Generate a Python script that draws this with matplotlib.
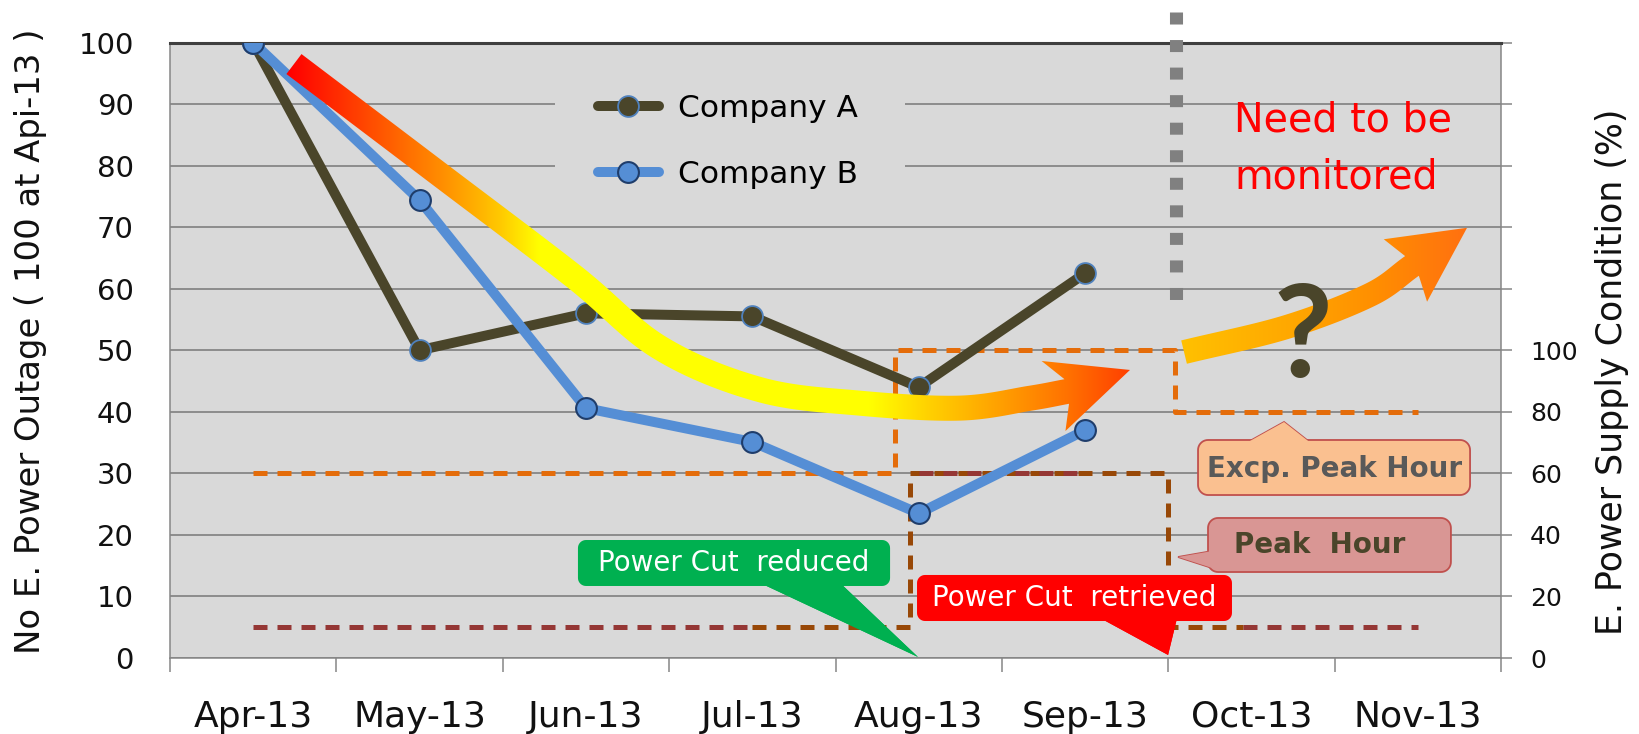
import numpy as np
import matplotlib
matplotlib.use('Agg')
import matplotlib.pyplot as plt
from matplotlib.patches import Polygon, Rectangle
from matplotlib.colors import to_rgb
from matplotlib.ticker import FuncFormatter

plt.rcParams['font.family'] = ['DejaVu Sans']

# ---------------- data ----------------
months = ['Apr-13', 'May-13', 'Jun-13', 'Jul-13', 'Aug-13', 'Sep-13', 'Oct-13', 'Nov-13']
company_a = [100, 50, 56, 55.5, 44, 62.5]
company_b = [100, 74.4, 40.6, 35.1, 23.5, 37.0]
excp_peak = [60, 60, 60, 60, 100, 100, 80, 80]   # E. power supply condition (%) - exceptional peak hour
peak_hour = [10, 10, 10, 10, 60, 60, 10, 10]     # E. power supply condition (%) - peak hour
left_ticks = list(range(0, 101, 10))
right_ticks = list(range(0, 201, 20))

# ---------------- styling ----------------
BG = '#D9D9D9'
GRID = '#868686'
COL_A = '#4A452A'
COL_B = '#558ED5'
ORANGE = '#E46C0A'
DKRED = '#953735'
BROWN = '#984807'

W, H = 1639, 734
fig = plt.figure(figsize=(W / 100, H / 100), dpi=100)
L, R, B, T = 170, 1501, 658, 42.5
ax = fig.add_axes([L / W, 1 - B / H, (R - L) / W, (B - T) / H])
ax2 = ax.twinx()
ax.set_zorder(ax2.get_zorder() + 1)
ax.patch.set_visible(False)
ax2.patch.set_visible(True)
ax2.patch.set_facecolor(BG)

ax.set_xlim(-0.5, 7.5)
ax.set_ylim(0, 100)
ax2.set_ylim(0, 200)

# spines
for s in ax.spines.values():
    s.set_visible(False)
for k, s in ax2.spines.items():
    s.set_color(GRID)
    s.set_linewidth(1.1)
ax2.spines['top'].set_color('#3F3F3F')
ax2.spines['top'].set_linewidth(2.2)

# grid on background axis
ax2.set_yticks(right_ticks)
ax2.yaxis.set_major_formatter(FuncFormatter(lambda v, p: f'{int(v)}' if v <= 100 else ''))
ax2.yaxis.grid(True, color=GRID, lw=1.3)
ax2.set_axisbelow(True)
ax2.tick_params(axis='y', direction='out', length=8, width=1.1, color=GRID,
                pad=13, labelsize=18, labelcolor='#111111')

# left axis ticks
ax.set_yticks(left_ticks)
ax.tick_params(axis='y', length=0, pad=26, labelsize=21, labelcolor='#111111')
ax.set_xticks(range(len(months)))
ax.set_xticklabels(months)
ax.set_xticks(np.arange(-0.5, len(months), 1.0), minor=True)
ax.tick_params(axis='x', which='major', length=0, pad=30, labelsize=26, labelcolor='#111111')
ax.tick_params(axis='x', which='minor', length=10, width=1.1, color=GRID)

ax.set_ylabel('No E. Power Outage ( 100 at Api-13 )', fontsize=24.4, color='#111111')
ax.yaxis.label.set(va='center', ha='center')
ax.yaxis.set_label_coords((31 - L) / (R - L), (B - 341) / (B - T))
ax2.set_ylabel('E. Power Supply Condition (%)', fontsize=25, color='#111111')
ax2.yaxis.label.set(va='center', ha='center', rotation=90)
ax2.yaxis.set_label_coords((1612 - L) / (R - L), (B - 372) / (B - T))

# ---------------- dashed supply-condition lines (right axis) ----------------
dkw = dict(lw=3.6, dashes=(2.8, 2.0), dash_capstyle='butt', zorder=2)
xs = np.arange(len(months))
# exceptional peak hour (orange) with step connectors
xa, xb = 3.86, 5.54
ax2.plot([xs[0], xs[3], xa, xa, xb, xb, xs[7]],
         [excp_peak[0], excp_peak[3], excp_peak[3], excp_peak[4], excp_peak[5], excp_peak[6], excp_peak[7]],
         color=ORANGE, **dkw)
# peak hour connectors (brown)
xc, xd, xe = 3.95, 5.50, 5.95
ax2.plot([xs[3], xc, xc, xd, xd, xe],
         [peak_hour[3], peak_hour[3], peak_hour[4], peak_hour[5], peak_hour[6], peak_hour[6]],
         color=BROWN, **dkw)
# peak hour series (dark red)
ax2.plot(xs[0:4], peak_hour[0:4], color=DKRED, **dkw)
ax2.plot(xs[4:6], peak_hour[4:6], color=DKRED, **dkw)
ax2.plot([xe, xs[7]], peak_hour[6:8], color=DKRED, **dkw)

# ---------------- company lines ----------------
la, = ax.plot(range(len(company_a)), company_a, color=COL_A, lw=7.2, marker='o', ms=15,
              mfc=COL_A, mec='#4F81BD', mew=1.3, solid_capstyle='round', solid_joinstyle='round', zorder=3)
lb, = ax.plot(range(len(company_b)), company_b, color=COL_B, lw=7.2, marker='o', ms=15,
              mfc=COL_B, mec='#1F3D6B', mew=1.5, solid_capstyle='round', solid_joinstyle='round', zorder=3.1)

# legend with background block hiding grid lines
ax.add_patch(Rectangle((1.814, 74), 2.104, 22, facecolor=BG, edgecolor='none', zorder=0.5))
ax.legend(handles=[la, lb], labels=['Company A', 'Company B'], loc='upper left',
          bbox_to_anchor=((598 - L) / (R - L), (B - 94) / (B - T)), frameon=False,
          fontsize=22.5, handlelength=1.95, handletextpad=0.6, labelspacing=1.17,
          borderpad=0, borderaxespad=0, numpoints=1)

# ---------------- gradient arrows ----------------
def catmull(P, n=40):
    P = np.asarray(P, float)
    ext = np.vstack([2 * P[0] - P[1], P, 2 * P[-1] - P[-2]])
    out = []
    for i in range(1, len(ext) - 2):
        p0, p1, p2, p3 = ext[i - 1], ext[i], ext[i + 1], ext[i + 2]
        t = np.linspace(0, 1, n, endpoint=False)[:, None]
        out.append(0.5 * (2 * p1 + (-p0 + p2) * t + (2 * p0 - 5 * p1 + 4 * p2 - p3) * t ** 2
                          + (-p0 + 3 * p1 - 3 * p2 + p3) * t ** 3))
    out.append(P[-1][None])
    return np.vstack(out)


def arrow_poly(ctrl, tip, w, half, sweep):
    D = ax.transData.transform(np.asarray(ctrl, float))
    tipd = ax.transData.transform(np.asarray([tip], float))[0]
    C = catmull(D)
    tang = np.gradient(C, axis=0)
    tang /= np.linalg.norm(tang, axis=1)[:, None]
    nrm = np.column_stack([-tang[:, 1], tang[:, 0]])
    left = C + nrm * w / 2
    right = C - nrm * w / 2
    E = C[-1]
    d = tipd - E
    d /= np.linalg.norm(d)
    n = np.array([-d[1], d[0]])
    head = np.array([E - sweep * d + half * n, tipd, E - sweep * d - half * n])
    poly = np.vstack([left, head, right[::-1]])
    return ax.transData.inverted().transform(poly)


def grad_fill(poly, stop_x, stop_c, z):
    patch = Polygon(poly, closed=True, facecolor='none', edgecolor='none', zorder=z)
    ax.add_patch(patch)
    x0, x1 = poly[:, 0].min(), poly[:, 0].max()
    y0, y1 = poly[:, 1].min(), poly[:, 1].max()
    gx = np.linspace(x0, x1, 600)
    rgb = np.array([to_rgb(c) for c in stop_c])
    img = np.stack([np.interp(gx, stop_x, rgb[:, k]) for k in range(3)], axis=-1)[None]
    im = ax.imshow(img, extent=[x0, x1, y0, y1], origin='lower', aspect='auto',
                   interpolation='bilinear', zorder=z)
    im.set_clip_path(patch)


big_ctrl = [(0.245, 96.5), (1.080, 79.4), (1.922, 62.1), (2.445, 50.4), (3.046, 43.6),
            (3.647, 41.4), (4.248, 40.6), (4.669, 42.2), (4.89, 43.3)]
big_tip = (5.27, 46.8)
grad_fill(arrow_poly(big_ctrl, big_tip, 25, 37, 14),
          [0.22, 0.76, 1.12, 1.48, 1.72, 3.71, 4.07, 4.49, 4.91, 5.27],
          ['#FF0000', '#FF5500', '#FF8C00', '#FFC800', '#FFFF00', '#FFFF00', '#FFD000',
           '#FFA000', '#FF7000', '#FF4000'], 4)

small_ctrl = [(5.595, 49.7), (6.214, 53.8), (6.713, 59.0), (6.965, 63.7)]
small_tip = (7.296, 69.9)
grad_fill(arrow_poly(small_ctrl, small_tip, 24, 38, 8),
          [5.595, 6.232, 6.713, 7.296], ['#FFC000', '#FFA800', '#FF9000', '#FF7010'], 4)

# ---------------- vertical dotted separator ----------------
ax.plot([5.547, 5.547], [104.9, 58.2], color='#808080', lw=9.4, dashes=(0.92, 1.19),
        dash_capstyle='butt', clip_on=False, zorder=2)

# ---------------- texts ----------------
ax.text(5.895, 85.46, 'Need to be', color='#FF0000', fontsize=28.5, ha='left', va='baseline', zorder=6)
ax.text(5.895, 76.36, 'monitored', color='#FF0000', fontsize=28.5, ha='left', va='baseline', zorder=6)
ax.text(6.31, 45.7, '?', color=COL_A, fontsize=92, fontweight='bold', family='Lato',
        ha='center', va='baseline', zorder=6)

# ---------------- callouts ----------------
def rounded_box(x0, y0, x1, y1, r):
    (X0, Y0), (X1, Y1) = ax.transData.transform([(x0, y0), (x1, y1)])
    pts = []
    corners = [(X1 - r, Y1 - r, 0), (X0 + r, Y1 - r, 90), (X0 + r, Y0 + r, 180), (X1 - r, Y0 + r, 270)]
    for cx, cy, a0 in corners:
        a = np.radians(np.linspace(a0, a0 + 90, 10))
        pts.append(np.column_stack([cx + r * np.cos(a), cy + r * np.sin(a)]))
    return ax.transData.inverted().transform(np.vstack(pts))


def callout(box, tail, face, edge, text, tx, ty, tcolor, weight, r=8):
    lw = 1.3 if edge != 'none' else 0
    ax.add_patch(Polygon(tail, closed=True, facecolor=face, edgecolor=edge, lw=lw, zorder=7))
    ax.add_patch(Polygon(rounded_box(*box, r), closed=True, facecolor=face, edgecolor=edge, lw=lw, zorder=7.1))
    ax.add_patch(Polygon(tail, closed=True, facecolor=face, edgecolor='none', zorder=7.2))
    ax.text(tx, ty, text, color=tcolor, fontsize=20, fontweight=weight, ha='center', va='center', zorder=8)


callout((1.952, 11.70, 3.828, 19.17), [(3.046, 12.2), (3.527, 12.2), (3.996, 0.16)],
        '#00B050', 'none', 'Power Cut  reduced', 2.89, 15.4, 'white', 'normal')
callout((3.990, 6.01, 5.883, 13.49), [(5.090, 6.5), (5.553, 6.5), (5.499, 0.49)],
        '#FF0000', 'none', 'Power Cut  retrieved', 4.935, 9.75, 'white', 'normal')
callout((5.679, 26.48, 7.314, 35.42), [(5.967, 34.9), (6.358, 34.9), (6.196, 38.34)],
        '#FAC090', '#C0504D', 'Excp. Peak Hour', 6.50, 30.7, '#595959', 'bold', r=10)
callout((5.739, 13.97, 7.199, 22.75), [(5.80, 14.30), (5.80, 17.55), (5.559, 16.41)],
        '#D99694', '#C0504D', 'Peak  Hour', 6.41, 18.36, COL_A, 'bold', r=10)

ax.set_xlim(-0.5, 7.5)
ax.set_ylim(0, 100)
fig.savefig('out.png', dpi=100)
